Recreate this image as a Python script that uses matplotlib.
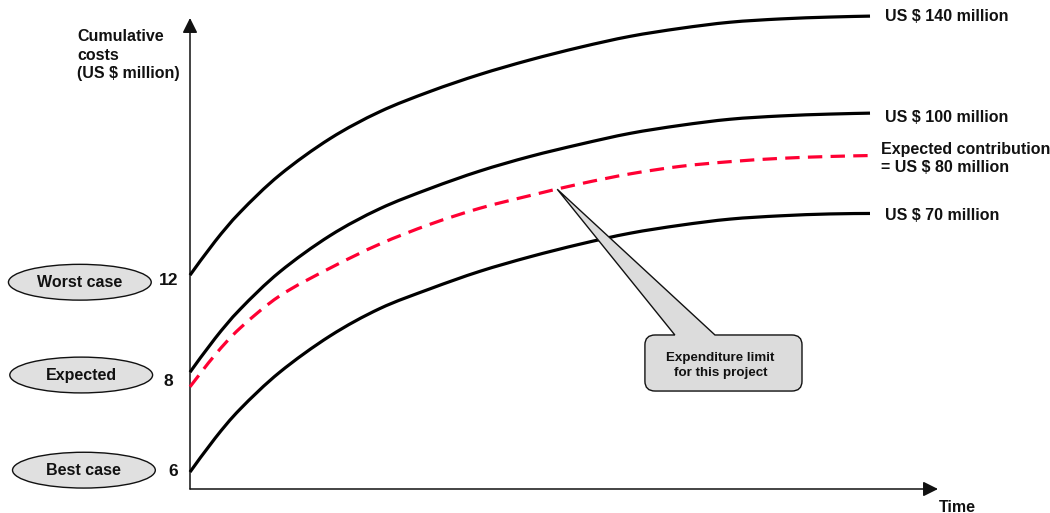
import numpy as np
import matplotlib.pyplot as plt
from matplotlib.patches import Ellipse, PathPatch
from matplotlib.path import Path

plt.rcParams['font.family'] = ['Liberation Sans', 'DejaVu Sans']
plt.rcParams['font.weight'] = 'bold'

# time along the project (arbitrary units) and cumulative cost level (schematic)
time = [0, 0.37, 0.74, 1.32, 2.06, 2.79, 3.53, 4.26, 5.0, 5.74, 6.47, 7.21, 7.94, 8.68, 9.41, 10.0]
worst = [45.4, 52.6, 58.8, 66.7, 74.4, 80.1, 84.4, 88.0, 91.1, 93.8, 96.1, 97.8, 99.1, 99.8, 100.2, 100.4]
middle = [24.8, 32.0, 38.2, 46.1, 53.8, 59.5, 63.8, 67.5, 70.6, 73.2, 75.5, 77.2, 78.5, 79.2, 79.6, 79.8]
expected = [21.7, 28.5, 34.2, 41.0, 46.9, 52.0, 56.2, 59.6, 62.3, 64.8, 66.9, 68.5, 69.5, 70.2, 70.6, 70.8]
best = [3.6, 10.8, 17.0, 24.8, 32.5, 38.3, 42.5, 46.2, 49.3, 52.0, 54.3, 56.0, 57.3, 58.0, 58.4, 58.5]

end_labels = ['US $ 140 million', 'US $ 100 million',
              'Expected contribution\n= US $ 80 million', 'US $ 70 million']

case_names = ['Worst case', 'Expected', 'Best case']
case_starts = ['12', '8', '6']

callout_text = 'Expenditure limit\nfor this project'
callout_time = 5.4

TXT = '#111111'


def smooth_path(xs, ys):
    # Catmull-Rom through the points, written as cubic Bezier segments
    pts = list(zip(xs, ys))
    verts = [pts[0]]
    codes = [Path.MOVETO]
    n = len(pts)
    for i in range(n - 1):
        p0 = pts[max(i - 1, 0)]
        p1 = pts[i]
        p2 = pts[i + 1]
        p3 = pts[min(i + 2, n - 1)]
        c1 = (p1[0] + (p2[0] - p0[0]) / 6, p1[1] + (p2[1] - p0[1]) / 6)
        c2 = (p2[0] - (p3[0] - p1[0]) / 6, p2[1] - (p3[1] - p1[1]) / 6)
        verts += [c1, c2, p2]
        codes += [Path.CURVE4] * 3
    return Path(verts, codes)


fig = plt.figure(figsize=(10.5, 5.13), dpi=100)
ax = fig.add_axes([190 / 1050, 24 / 513, 748 / 1050, 471 / 513])
ax.set_xlim(0, 11)
ax.set_ylim(0, 100)
ax.axis('off')

# axes with arrow heads
arrow = dict(arrowstyle='-|>,head_length=0.6,head_width=0.3', mutation_scale=15,
             color='#111111', lw=1.1, shrinkA=0, shrinkB=0)
ax.annotate('', xy=(0, 1), xytext=(0, 0), xycoords='axes fraction', arrowprops=arrow)
ax.annotate('', xy=(1, 0), xytext=(0, 0), xycoords='axes fraction', arrowprops=arrow)

# cost curves
for vals in (worst, middle, best):
    ax.add_patch(PathPatch(smooth_path(time, vals), fill=False, edgecolor='black',
                           lw=2.3, capstyle='butt', clip_on=False, zorder=3))
ax.add_patch(PathPatch(smooth_path(time, expected), fill=False, edgecolor='#ff0033',
                       lw=2.3, linestyle=(0, (4.5, 2.6)), capstyle='butt',
                       clip_on=False, zorder=3))

# labels at the end of each curve
ends = [worst[-1], middle[-1], expected[-1], best[-1]]
offsets = [(15, 0), (15, -4), (11, -3), (15, -2)]
for lab, yv, off in zip(end_labels, ends, offsets):
    ax.annotate(lab, xy=(time[-1], yv), xytext=off, textcoords='offset pixels',
                ha='left', va='center', fontsize=11.5, color=TXT,
                linespacing=1.3, annotation_clip=False)

# case ellipses on the left with starting costs
ell_y = [43.9, 24.2, 4.0]
ell_x = [-1.62, -1.60, -1.56]
num_y = [44.2, 22.9, 3.8]
num_x = [-0.17, -0.25, -0.17]
for name, start, ex, ey, nx, ny in zip(case_names, case_starts, ell_x, ell_y, num_x, num_y):
    ax.add_patch(Ellipse((ex, ey), 2.1, 7.6, facecolor='#e0e0e0', edgecolor='#111111',
                         lw=1.0, clip_on=False))
    ax.text(ex, ey, name, ha='center', va='center', fontsize=11.5, color=TXT)
    ax.text(nx, ny, start, ha='right', va='center', fontsize=12.5, color=TXT)

# callout pointing at the expected curve
tip = (callout_time, np.interp(callout_time, time, expected))
l, r, b, t = 6.69, 9.0, 20.8, 32.7
rx, ry = 0.15, 2.1
verts = [(7.13, t), tip, (7.72, t), (r - rx, t), (r, t), (r, t - ry), (r, b + ry),
         (r, b), (r - rx, b), (l + rx, b), (l, b), (l, b + ry), (l, t - ry), (l, t),
         (l + rx, t), (7.13, t)]
codes = [Path.MOVETO, Path.LINETO, Path.LINETO, Path.LINETO, Path.CURVE3, Path.CURVE3,
         Path.LINETO, Path.CURVE3, Path.CURVE3, Path.LINETO, Path.CURVE3, Path.CURVE3,
         Path.LINETO, Path.CURVE3, Path.CURVE3, Path.CLOSEPOLY]
ax.add_patch(PathPatch(Path(verts, codes), facecolor='#dcdcdc', edgecolor='#111111',
                       lw=1.0, zorder=5, clip_on=False))
ax.text(7.80, 26.2, callout_text, ha='center', va='center', fontsize=9.6, color=TXT,
        linespacing=1.35, zorder=6)

fig.text(77 / 1050, 1 - 29 / 513, 'Cumulative\ncosts\n(US $ million)', ha='left', va='top',
         fontsize=11.5, color=TXT, linespacing=1.3)
fig.text(939 / 1050, 1 - 507 / 513, 'Time', ha='left', va='center', fontsize=11.5, color=TXT)

fig.savefig('out.png', dpi=100)
